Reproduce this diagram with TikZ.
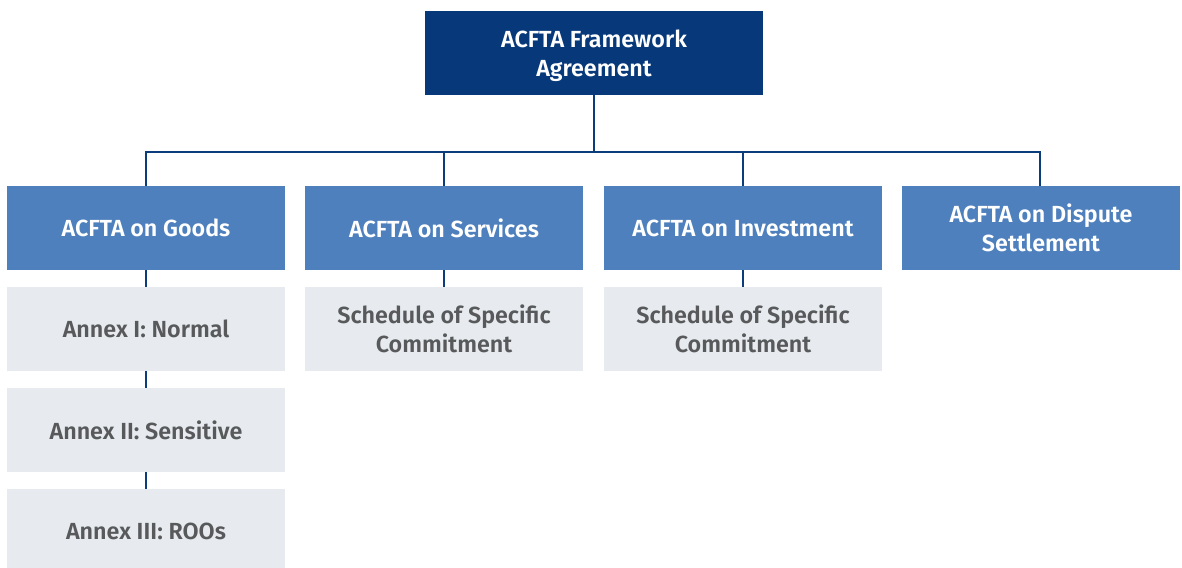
\documentclass[tikz,border=0pt]{standalone}
\usepackage{fontspec}
\setmainfont{Fira Sans}[BoldFont={Fira Sans SemiBold}]
\definecolor{navy}{HTML}{06387A}
\definecolor{midblue}{HTML}{4E80BD}
\definecolor{paleblue}{HTML}{E7EBEF}
\definecolor{darkgrey}{HTML}{58595B}
\definecolor{linkblue}{HTML}{0B3C7C}
\tikzset{
  label text/.style={inner sep=0pt, align=center,
    font=\fontsize{23.3}{29}\selectfont\bfseries},
  box/.style={label text, minimum width=278pt, minimum height=84pt},
  topbox/.style={box, fill=navy, text=white, minimum width=338pt},
  mainbox/.style={box, fill=midblue, text=white},
  subbox/.style={box, fill=paleblue, text=darkgrey},
  link/.style={draw=linkblue, line width=2.4pt}
}
\begin{document}
\begin{tikzpicture}[x=1pt, y=-1pt]
\useasboundingbox (0,0) rectangle (1182,567);
\clip (0,0) rectangle (1182,567);
% framework agreement
\node[topbox] (top) at (594,53) {};
\node[label text, text=white] (toptext) at (594,56) {ACFTA Framework\\Agreement};
% four agreements
\node[mainbox] (goods) at (146,228) {ACFTA on Goods};
\node[mainbox] (serv) at (444,228) {ACFTA on Services};
\node[mainbox] (inv) at (743,228) {ACFTA on Investment};
\node[mainbox] (disp) at (1041,228) {ACFTA on Dispute\\Settlement};
% annexes and schedules
\node[subbox] (an1) at (146,329) {Annex I: Normal};
\node[subbox] (an2) at (146,430) {Annex II: Sensitive};
\node[subbox] (an3) at (146,531) {Annex III: ROOs};
\node[subbox] (sch1) at (444,329) {Schedule of Specific\\Commitment};
\node[subbox] (sch2) at (743,329) {Schedule of Specific\\Commitment};
% connectors
\coordinate (bar) at (594,152);
\draw[link] (top.south) -- (bar);
\draw[link] (bar) -| (goods.north);
\draw[link] (bar) -| (serv.north);
\draw[link] (bar) -| (inv.north);
\draw[link] (bar) -| ([xshift=-1pt]disp.north);
\draw[link] (goods.south) -- (an1.north);
\draw[link] (an1.south) -- (an2.north);
\draw[link] (an2.south) -- (an3.north);
\draw[link] (serv.south) -- (sch1.north);
\draw[link] (inv.south) -- (sch2.north);
\end{tikzpicture}
\end{document}
